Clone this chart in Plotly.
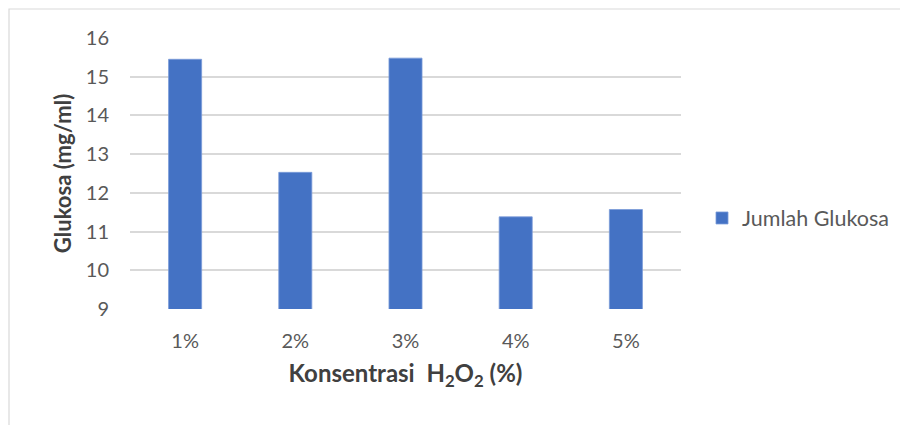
import plotly.graph_objects as go

categories = ["1%", "2%", "3%", "4%", "5%"]
glukosa = [15.45, 12.53, 15.48, 11.38, 11.57]
series_name = "Jumlah Glukosa"
y_ticks = [9, 10, 11, 12, 13, 14, 15, 16]

# page is shown with an 8px body offset, so margins are shifted by -8
W, H = 908, 425
L, T = 122, 30
R = W - 673
B = H - 301

PW = W - L - R
PH = H - T - B

fig = go.Figure()
fig.add_trace(go.Bar(
    x=categories, y=glukosa, name=series_name,
    marker=dict(color="#4472C4", line=dict(color="#7A9BD8", width=0.8)),
    width=0.3,
))

font = "Lato, 'Noto Sans', sans-serif"
fig.update_layout(
    width=W, height=H,
    margin=dict(l=L, r=R, t=T, b=B, pad=0, autoexpand=False),
    paper_bgcolor="white", plot_bgcolor="white",
    font=dict(family=font, size=20, color="#595959"),
    showlegend=True,
    legend=dict(x=(694 - L) / PW, y=(301 - 210) / PH,
                xanchor="left", yanchor="middle",
                font=dict(size=21.5, color="#595959"),
                itemwidth=30, bgcolor="rgba(0,0,0,0)"),
    xaxis=dict(
        showgrid=False, showline=False, zeroline=False,
        ticks="", ticklabelstandoff=18,
        tickfont=dict(size=20, color="#595959"),
        title=dict(text="<b>Konsentrasi&nbsp; H<sub>2</sub>O<sub>2</sub> (%)</b>",
                   font=dict(size=24, color="#404040"), standoff=14),
    ),
    yaxis=dict(
        range=[9, 16], tickvals=y_ticks,
        showgrid=True, gridcolor="#D9D9D9", gridwidth=1.5,
        zeroline=False, showline=False, ticks="", ticklabelstandoff=20,
        tickfont=dict(size=20, color="#595959"),
        title=dict(text="<b>Glukosa (mg/ml)</b>",
                   font=dict(size=22, color="#404040"), standoff=8),
    ),
    shapes=[dict(type="rect", xref="paper", yref="paper",
                 x0=(1 - L) / PW, x1=3,
                 y0=-2, y1=(301 - 1) / PH,
                 line=dict(color="#D9D9D9", width=1.2), layer="below")],
)

fig.write_html("out.html")
